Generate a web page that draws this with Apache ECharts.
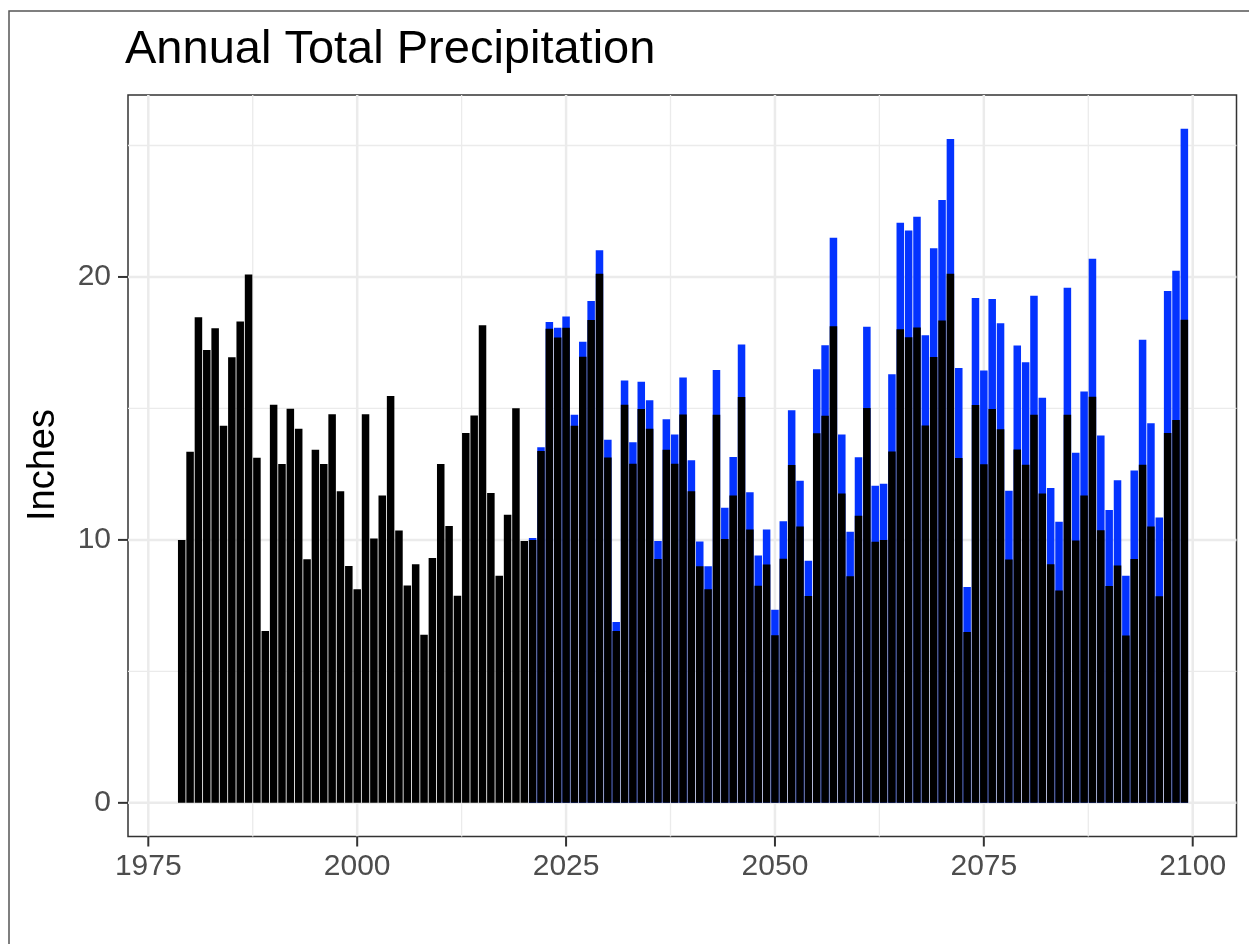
<!DOCTYPE html>
<html>
<head>
<meta charset="utf-8">
<script src="https://cdn.jsdelivr.net/npm/echarts@6/dist/echarts.min.js"></script>
<style>
  html, body { margin: 0; padding: 0; background: #ffffff; }
  #chart { width: 1249px; height: 944px; }
</style>
</head>
<body>
<div id="chart"></div>
<script>
// Annual totals in inches, one value per year starting at firstYear
const firstYear = 1979;
const historical = [
  10.00, 13.35, 18.47, 17.22, 18.05, 14.34, 16.95, 18.31, 20.09, 13.12,   // 1979-1988
  6.54, 15.14, 12.89, 14.99, 14.23, 9.26, 13.43, 12.89, 14.78, 11.85,     // 1989-1998
  9.01, 8.12, 14.78, 10.05, 11.69, 15.47, 10.36, 8.27, 9.07, 6.39,        // 1999-2008
  9.31, 12.89, 10.53, 7.88, 14.07, 14.73, 18.16, 11.78, 8.64, 10.96,      // 2009-2018
  15.01, 9.96, 10.00, 13.38, 18.03, 17.70, 18.07, 14.34, 16.97, 18.36,    // 2019-2028
  20.12, 13.13, 6.54, 15.14, 12.90, 14.98, 14.23, 9.27, 13.43, 12.90,     // 2029-2038
  14.77, 11.85, 9.00, 8.12, 14.76, 10.03, 11.69, 15.43, 10.40, 8.26,      // 2039-2048
  9.06, 6.37, 9.28, 12.85, 10.51, 7.87, 14.06, 14.72, 18.13, 11.76,       // 2049-2058
  8.62, 10.92, 15.02, 9.93, 10.00, 13.36, 18.01, 17.71, 18.08, 14.35,     // 2059-2068
  16.96, 18.34, 20.12, 13.11, 6.50, 15.13, 12.88, 14.98, 14.21, 9.25,     // 2069-2078
  13.44, 12.86, 14.76, 11.76, 9.07, 8.08, 14.76, 9.98, 11.69, 15.44,      // 2079-2088
  10.37, 8.25, 9.03, 6.36, 9.27, 12.86, 10.51, 7.86, 14.07, 14.56,        // 2089-2098
  18.37                                                                   // 2099
];

// Projected totals, starting at projectedStart
const projectedStart = 2021;
const projected = [
  10.07, 13.52, 18.29, 18.07, 18.50, 14.76, 17.54, 19.09, 21.02, 13.81,   // 2021-2030
  6.88, 16.06, 13.71, 16.01, 15.31, 9.96, 14.59, 14.01, 16.18, 13.03,     // 2031-2040
  9.94, 9.00, 16.46, 11.22, 13.15, 17.43, 11.81, 9.41, 10.40, 7.34,       // 2041-2050
  10.71, 14.93, 12.25, 9.21, 16.49, 17.40, 21.49, 14.01, 10.31, 13.14,    // 2051-2060
  18.11, 12.06, 12.14, 16.30, 22.06, 21.77, 22.29, 17.78, 21.09, 22.93,   // 2061-2070
  25.25, 16.54, 8.21, 19.20, 16.44, 19.16, 18.24, 11.87, 17.39, 16.76,    // 2071-2080
  19.29, 15.41, 11.97, 10.69, 19.59, 13.31, 15.64, 20.69, 13.97, 11.14,   // 2081-2090
  12.27, 8.64, 12.64, 17.61, 14.44, 10.85, 19.47, 20.24, 25.64            // 2091-2099
];

// Axis ticks and ranges
const xTicks = [1975, 2000, 2025, 2050, 2075, 2100];
const xMinor = [1987.5, 2012.5, 2037.5, 2062.5, 2087.5];
const yTicks = [0, 10, 20];
const yMinor = [5, 15, 25];
const xRange = [1972.57, 2105.24];
const yRange = [-1.28, 26.92];

const titleText = 'Annual Total Precipitation';
const yTitle = 'Inches';

const FONT = '"Liberation Sans", Arial, Helvetica, sans-serif';
const BAR_HALF = 0.45;

const histData = historical.map((v, i) => [firstYear + i, v]);
const projData = projected.map((v, i) => [projectedStart + i, v]);

function barRenderer(color) {
  return function (params, api) {
    const x = api.value(0);
    const v = api.value(1);
    const a = api.coord([x - BAR_HALF, 0]);
    const b = api.coord([x + BAR_HALF, v]);
    return {
      type: 'rect',
      shape: { x: a[0], y: b[1], width: b[0] - a[0], height: a[1] - b[1] },
      style: { fill: color }
    };
  };
}

function vGrid(width) {
  return function (params, api) {
    const v = api.value(0);
    const top = api.coord([v, yRange[1]]);
    const bot = api.coord([v, yRange[0]]);
    return {
      type: 'line',
      shape: { x1: top[0], y1: top[1], x2: bot[0], y2: bot[1] },
      style: { stroke: '#EBEBEB', lineWidth: width }
    };
  };
}

function hGrid(width) {
  return function (params, api) {
    const v = api.value(0);
    const l = api.coord([xRange[0], v]);
    const r = api.coord([xRange[1], v]);
    return {
      type: 'line',
      shape: { x1: l[0], y1: l[1], x2: r[0], y2: r[1] },
      style: { stroke: '#EBEBEB', lineWidth: width }
    };
  };
}

function xTickRenderer(params, api) {
  const v = api.value(0);
  const p = api.coord([v, yRange[0]]);
  return {
    type: 'group',
    children: [
      { type: 'line', shape: { x1: p[0], y1: p[1], x2: p[0], y2: p[1] + 10 },
        style: { stroke: '#333333', lineWidth: 2 } },
      { type: 'text', style: { text: String(v), x: p[0], y: p[1] + 30,
        fill: '#4D4D4D', font: '30px ' + FONT, align: 'center', verticalAlign: 'middle' } }
    ]
  };
}

function yTickRenderer(params, api) {
  const v = api.value(0);
  const p = api.coord([xRange[0], v]);
  return {
    type: 'group',
    children: [
      { type: 'line', shape: { x1: p[0] - 10, y1: p[1], x2: p[0], y2: p[1] },
        style: { stroke: '#333333', lineWidth: 2 } },
      { type: 'text', style: { text: String(v), x: p[0] - 17, y: p[1],
        fill: '#4D4D4D', font: '30px ' + FONT, align: 'right', verticalAlign: 'middle' } }
    ]
  };
}

const hiddenAxis = {
  type: 'value',
  axisLine: { show: false },
  axisTick: { show: false },
  axisLabel: { show: false },
  splitLine: { show: false }
};

const chart = echarts.init(document.getElementById('chart'), null, { renderer: 'canvas' });
chart.setOption({
  animation: false,
  backgroundColor: '#ffffff',
  grid: {
    left: 128, right: 12.5, top: 95, bottom: 107.5,
    show: true, borderColor: '#333333', borderWidth: 1.5,
    backgroundColor: 'transparent'
  },
  xAxis: Object.assign({}, hiddenAxis, { min: xRange[0], max: xRange[1] }),
  yAxis: Object.assign({}, hiddenAxis, { min: yRange[0], max: yRange[1] }),
  graphic: [
    { type: 'rect', x: 9, y: 11, shape: { x: 0, y: 0, width: 1300, height: 1000 },
      style: { fill: 'none', stroke: '#555555', lineWidth: 1.5 }, silent: true },
    { type: 'text', x: 125, y: 50,
      style: { text: titleText, fill: '#000000', font: '47px ' + FONT,
        align: 'left', verticalAlign: 'middle' } },
    { type: 'text', x: 43.5, y: 465, rotation: Math.PI / 2,
      style: { text: yTitle, fill: '#000000', font: '38px ' + FONT,
        align: 'center', verticalAlign: 'middle' } }
  ],
  series: [
    { type: 'custom', name: 'minor-x', data: xMinor.map(v => [v]), renderItem: vGrid(1.3), z: 1, silent: true },
    { type: 'custom', name: 'minor-y', data: yMinor.map(v => [v]), renderItem: hGrid(1.3), z: 1, silent: true },
    { type: 'custom', name: 'major-x', data: xTicks.map(v => [v]), renderItem: vGrid(2.5), z: 1, silent: true },
    { type: 'custom', name: 'major-y', data: yTicks.map(v => [v]), renderItem: hGrid(2.5), z: 1, silent: true },
    { type: 'custom', name: 'Projected', data: projData, renderItem: barRenderer('#0433FF'), z: 2 },
    { type: 'custom', name: 'Historical', data: histData, renderItem: barRenderer('#000000'), z: 3 },
    { type: 'custom', name: 'x-ticks', data: xTicks.map(v => [v]), renderItem: xTickRenderer, z: 4, clip: false, silent: true },
    { type: 'custom', name: 'y-ticks', data: yTicks.map(v => [v]), renderItem: yTickRenderer, z: 4, clip: false, silent: true }
  ]
});
</script>
</body>
</html>
